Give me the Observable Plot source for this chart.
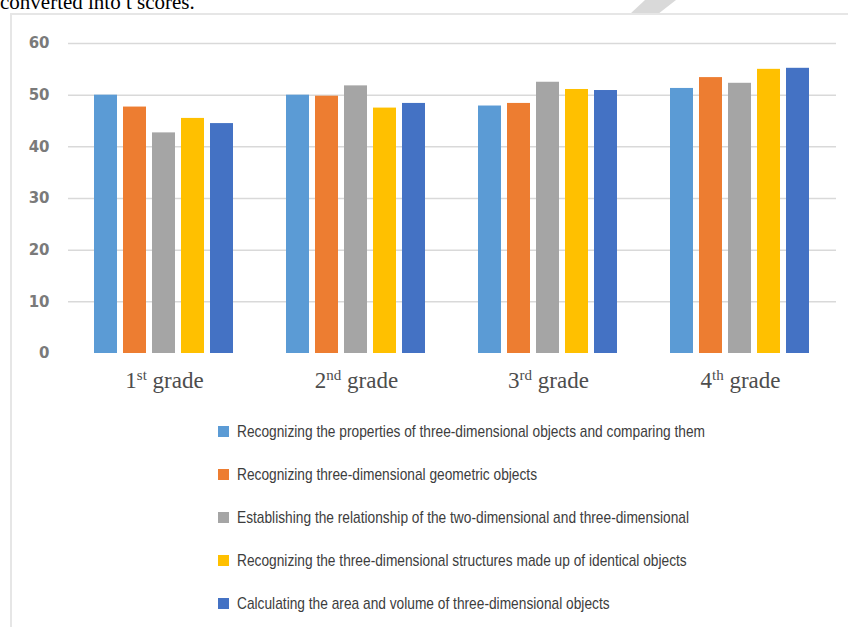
<!DOCTYPE html>
<html>
<head>
<meta charset="utf-8">
<script src="https://cdn.jsdelivr.net/npm/d3@7"></script>
<script src="https://cdn.jsdelivr.net/npm/@observablehq/plot@0.6"></script>
<style>
  html, body { margin: 0; padding: 0; background: #ffffff; }
  body { width: 848px; height: 627px; position: relative; overflow: hidden; }
  #doctext { position: absolute; left: 0px; top: -10px; font-family: "Liberation Serif", "Times New Roman", serif; font-size: 21px; line-height: 24px; color: #000; white-space: nowrap; }
  #slash { position: absolute; left: 0; top: 0; }
  #chart { position: absolute; left: 0; top: 0; }
  #frame { position: absolute; left: 10px; top: 13px; width: 900px; height: 700px; border-left: 2px solid #e6e6e6; border-top: 2px solid #e6e6e6; pointer-events: none; }
  #legend { position: absolute; left: 218px; top: 410px; }
  .row { height: 43px; display: flex; align-items: center; }
  .sw { width: 11px; height: 11px; flex: none; }
  .lab { margin-left: 8px; font-family: "Liberation Sans", Arial, sans-serif; font-size: 17px; color: #3d3d3d; white-space: nowrap; transform: scaleX(0.808); transform-origin: left center; }
</style>
</head>
<body>
<div id="doctext">converted into t scores.</div>
<svg id="slash" width="848" height="20"><polygon points="645,0 676,0 658,14 630,14" fill="#d9d9d9"></polygon></svg>
<div id="chart"></div>
<div id="frame"></div>
<div id="legend"></div>
<script>
// ---- data ----
const grades = ["1st grade", "2nd grade", "3rd grade", "4th grade"];
const gradeNumbers = ["1", "2", "3", "4"];
const gradeSuffixes = ["st", "nd", "rd", "th"];
const series = [
  "Recognizing the properties of three-dimensional objects and comparing them",
  "Recognizing three-dimensional geometric objects",
  "Establishing the relationship of the two-dimensional and three-dimensional",
  "Recognizing the three-dimensional structures made up of identical objects",
  "Calculating the area and volume of three-dimensional objects"
];
const colors = ["#5B9BD5", "#ED7D31", "#A5A5A5", "#FFC000", "#4472C4"];
const grade1Values = [50.0, 47.7, 42.7, 45.5, 44.5];
const grade2Values = [50.0, 49.8, 51.8, 47.5, 48.4];
const grade3Values = [47.9, 48.4, 52.5, 51.1, 50.9];
const grade4Values = [51.3, 53.4, 52.3, 55.0, 55.2];
const yTicks = [0, 10, 20, 30, 40, 50, 60];

const valuesByGrade = [grade1Values, grade2Values, grade3Values, grade4Values];
const table = [];
grades.forEach((g, gi) => series.forEach((s, si) => table.push({grade: g, series: s, value: valuesByGrade[gi][si]})));

const chart = Plot.plot({
  width: 848,
  height: 400,
  marginLeft: 68,
  marginRight: 12,
  marginTop: 43,
  marginBottom: 47,
  style: {fontFamily: "'DejaVu Sans', sans-serif", fontSize: "15px", fontWeight: "bold", color: "#7a7a7a", background: "transparent"},
  fx: {domain: grades, padding: 0, label: null, tickSize: 0, tickPadding: 18},
  x: {domain: series, axis: null, paddingInner: 0.19, paddingOuter: 0.85},
  y: {domain: [0, 60], ticks: yTicks, tickSize: 0, tickPadding: 19, label: null},
  color: {domain: series, range: colors},
  marks: [
    Plot.ruleY(yTicks.filter(t => t > 0), {stroke: "#d9d9d9", strokeWidth: 1.5}),
    Plot.barY(table, {fx: "grade", x: "series", y: "value", fill: "series"})
  ]
});
document.getElementById("chart").appendChild(chart);

// grade labels with superscript ordinals
d3.select(chart).selectAll("text").each(function() {
  const t = this.textContent;
  const gi = grades.indexOf(t);
  if (gi < 0) return;
  const sel = d3.select(this);
  sel.text(null)
    .attr("font-family", "'Liberation Serif', 'Times New Roman', serif")
    .attr("font-size", 23)
    .attr("font-weight", "normal")
    .attr("fill", "#4d4d4d");
  sel.append("tspan").text(gradeNumbers[gi]);
  sel.append("tspan").attr("font-size", 15).attr("dy", -8).text(gradeSuffixes[gi]);
  sel.append("tspan").attr("dy", 8).text(" grade");
});

// legend
const legend = d3.select("#legend");
series.forEach((s, i) => {
  const row = legend.append("div").attr("class", "row");
  row.append("div").attr("class", "sw").style("background", colors[i]);
  row.append("div").attr("class", "lab").text(s);
});
</script>
</body>
</html>
